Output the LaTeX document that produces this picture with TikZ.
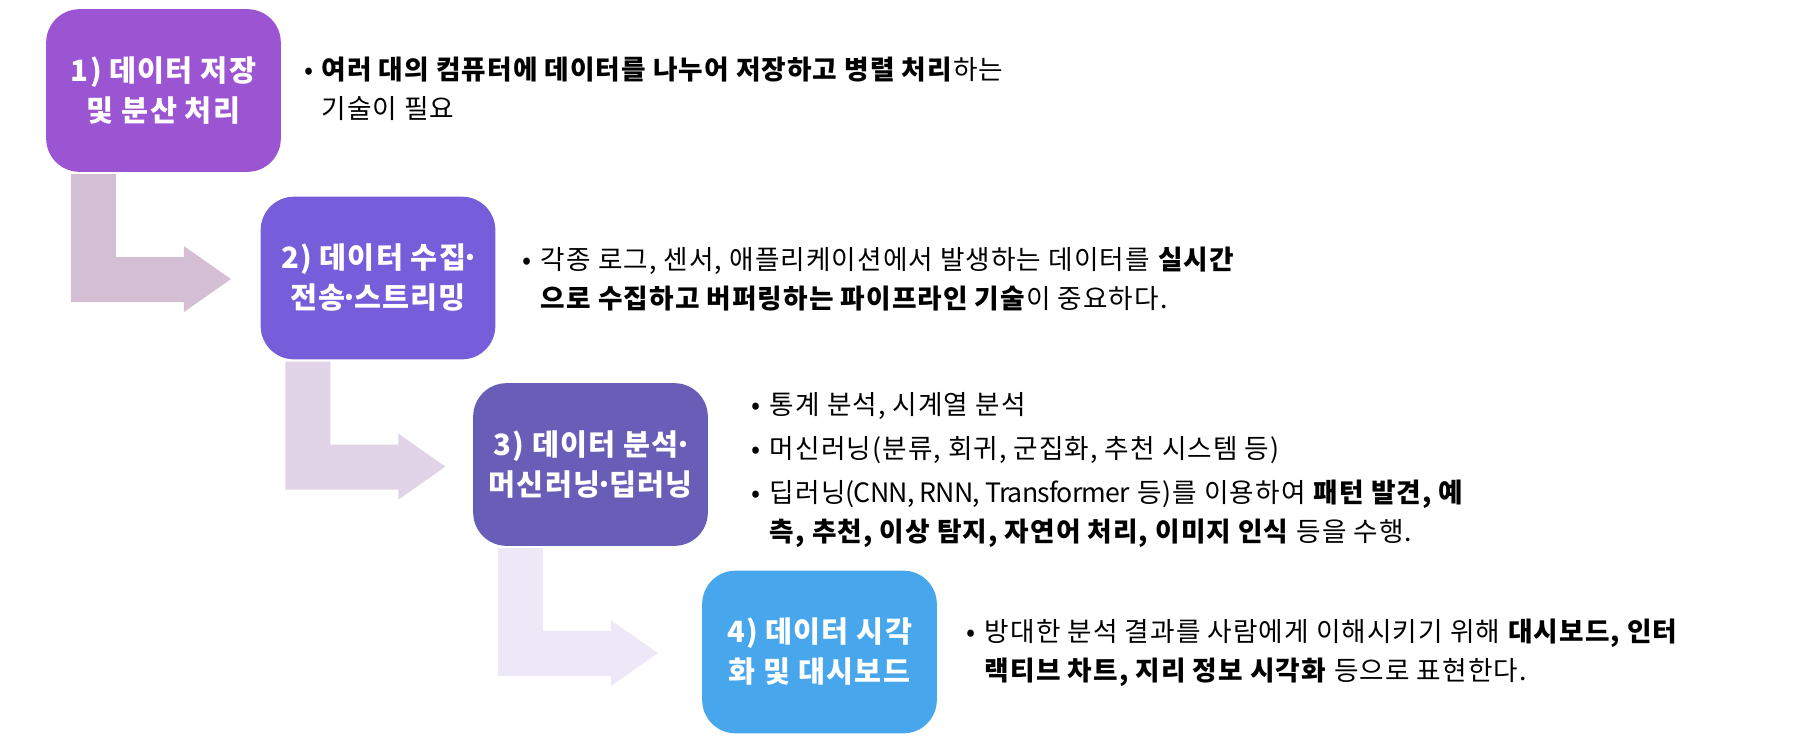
\documentclass[tikz,border=0pt]{standalone}
\usepackage{fontspec}
\setmainfont{Noto Sans CJK KR}[LetterSpace=4]
\usetikzlibrary{calc}

\definecolor{stageA}{RGB}{155,85,211}
\definecolor{stageB}{RGB}{118,93,217}
\definecolor{stageC}{RGB}{104,94,184}
\definecolor{stageD}{RGB}{72,166,236}
\definecolor{arrowA}{RGB}{212,190,212}
\definecolor{arrowB}{RGB}{225,211,232}
\definecolor{arrowC}{RGB}{236,232,247}

% narrow middle dot, as in the stage titles
\newcommand{\mdot}{\makebox[0.3em]{·}}
% tighter latin words
\newcommand{\latin}[1]{{\addfontfeatures{LetterSpace=-3}#1}}

\tikzset{
  stage/.style={rounded corners=25pt, minimum width=176pt, minimum height=122pt,
    inner sep=0pt, text=white, align=center, font=\fontsize{22}{30}\selectfont\bfseries},
  desc/.style={anchor=west, inner sep=0pt, align=left, font=\fontsize{20}{29}\selectfont}
}

\begin{document}
\begin{tikzpicture}[x=0.75pt, y=-0.75pt]
            \useasboundingbox (0,0) rectangle (1799,744);

            % Stages
            \node[stage, fill=stageA] (s1) at (163.5,90.5) {1) 데이터 저장\\및 분산 처리};
            \node[stage, fill=stageB] (s2) at (378,278) {2) 데이터 수집\mdot\\전송\mdot 스트리밍};
            \node[stage, fill=stageC] (s3) at (590.5,464.5) {3) 데이터 분석\mdot\\머신러닝\mdot 딥러닝};
            \node[stage, fill=stageD] (s4) at (819.5,652) {4) 데이터 시각\\화 및 대시보드};

            % Bent arrows from one stage down to the next
            \foreach \a/\c in {s1/arrowA, s2/arrowB, s3/arrowC} {
                \fill[\c, shift={($(\a.south west)+(25,2)$)}]
                    (0,0) -- (45,0) -- (45,83) -- (113,83) -- (113,72) -- (160,105)
                    -- (113,138) -- (113,128) -- (0,128) -- cycle;
            }

            % Descriptions
            \node[desc] (d1) at (304,89) {\makebox[13pt][l]{•}\textbf{여러 대의 컴퓨터에 데이터를 나누어 저장하고 병렬 처리}하는\\
                \hspace{13pt}기술이 필요};
            \node[desc] (d2) at (522,279) {\makebox[14pt][l]{•}각종 로그, 센서, 애플리케이션에서 발생하는 데이터를 \textbf{실시간}\\
                \hspace{14pt}\textbf{으로 수집하고 버퍼링하는 파이프라인 기술}이 중요하다.};
            \node[desc] (d3) at (751,470) {\makebox[14pt][l]{•}통계 분석, 시계열 분석\\[4pt]
                \makebox[14pt][l]{•}머신러닝(분류, 회귀, 군집화, 추천 시스템 등)\\[4pt]
                \makebox[14pt][l]{•}딥러닝\latin{(CNN, RNN, Transformer} 등)를 이용하여 \textbf{패턴 발견, 예}\\
                \hspace{14pt}\textbf{측, 추천, 이상 탐지, 자연어 처리, 이미지 인식} 등을 수행.};
            \node[desc] (d4) at (966,653) {\makebox[14pt][l]{•}방대한 분석 결과를 사람에게 이해시키기 위해 \textbf{대시보드, 인터}\\
                \hspace{14pt}\textbf{랙티브 차트, 지리 정보 시각화} 등으로 표현한다.};
\end{tikzpicture}
\end{document}
